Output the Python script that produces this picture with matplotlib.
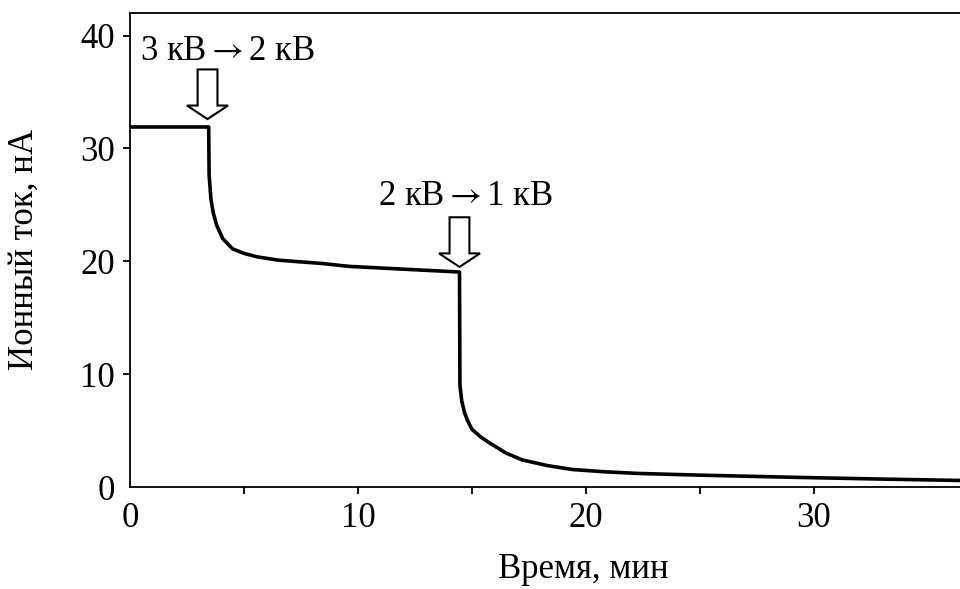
import matplotlib.pyplot as plt
from matplotlib.patches import FancyArrow

# current trace
time_min = [0, 3.45, 3.47, 3.55, 3.65, 3.8, 4.07, 4.5, 5.0, 5.56, 6.5, 8.45, 9.6, 12.0,
            14.45, 14.47, 14.55, 14.67, 14.8, 15.0, 15.4, 15.77, 16.5, 17.2, 18.3, 19.4,
            20.8, 22.3, 25.0, 29.3, 33.0, 36.4]
current_na = [31.9, 31.9, 27.6, 25.5, 24.3, 23.2, 22.0, 21.1, 20.7, 20.4, 20.1, 19.8, 19.55, 19.3,
              19.05, 9.0, 7.6, 6.6, 5.9, 5.1, 4.4, 3.9, 3.0, 2.4, 1.9, 1.55,
              1.35, 1.2, 1.05, 0.85, 0.7, 0.58]

x_ticks = [0, 5, 10, 15, 20, 25, 30]
x_tick_labels = ["0", "", "10", "", "20", "", "30"]
y_ticks = [0, 10, 20, 30, 40]

# voltage switch annotations: (label, text x, text y, arrow x, arrow top, arrow tip)
switches = [
    ("3 кВ$\\rightarrow$2 кВ", 4.27, 38.6, 3.4, 37.0, 32.6),
    ("2 кВ$\\rightarrow$1 кВ", 14.7, 25.7, 14.45, 23.9, 19.5),
]

plt.rcParams["font.family"] = ["Liberation Serif", "DejaVu Serif"]
plt.rcParams["mathtext.fontset"] = "stix"
plt.rcParams["font.size"] = 25

fig = plt.figure(figsize=(9.6, 5.89), dpi=100)
ax = fig.add_axes([130 / 960, 1 - 487 / 589, 830 / 960, 474 / 589])

ax.plot(time_min, current_na, color="black", lw=2.6, solid_joinstyle="round")

for label, tx, ty, ax_x, top, tip in switches:
    ax.text(tx, ty, label, ha="center", va="center")
    arrow = FancyArrow(ax_x, top, 0, tip - top, width=0.87, head_width=1.8,
                       head_length=1.2, length_includes_head=True,
                       facecolor="white", edgecolor="black", lw=1.5, zorder=3)
    ax.add_patch(arrow)

ax.set_xlim(0, 36.4)
ax.set_ylim(0, 42)
ax.set_xticks(x_ticks)
ax.set_xticklabels(x_tick_labels)
ax.set_yticks(y_ticks)
ax.tick_params(direction="out", length=5, width=1.3, pad=6)
# no tick marks in the corner at the origin
ax.xaxis.get_major_ticks()[0].tick1line.set_visible(False)
ax.yaxis.get_major_ticks()[0].tick1line.set_visible(False)
for side in ["left", "bottom", "top"]:
    ax.spines[side].set_linewidth(1.3)
ax.spines["right"].set_visible(False)

ax.set_xlabel("Время, мин")
ax.set_ylabel("Ионный ток, нА")
ax.xaxis.set_label_coords(0.546, -0.14)
ax.yaxis.set_label_coords(-0.108, 0.5)

fig.savefig("out.png", dpi=100)
